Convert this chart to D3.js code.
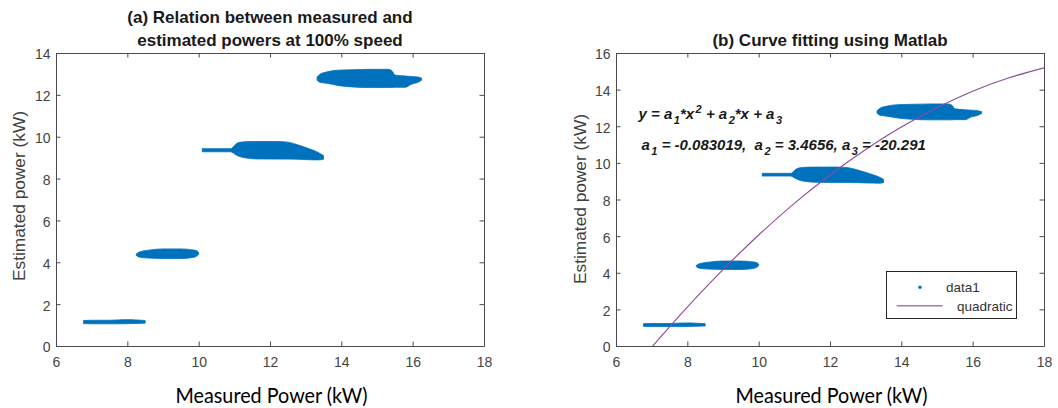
<!DOCTYPE html>
<html><head><meta charset="utf-8">
<script src="https://cdn.jsdelivr.net/npm/d3@7"></script>
<style>body{margin:0;background:#fff}svg{display:block}text{white-space:pre}</style>
</head><body>
<svg id="c" width="1058" height="408"></svg>
<script>
// ---- tick values ----
const xTicks = [6, 8, 10, 12, 14, 16, 18];
const yTicksA = [0, 2, 4, 6, 8, 10, 12, 14];
const yTicksB = [0, 2, 4, 6, 8, 10, 12, 14, 16];

// ---- data1 point clouds, read as envelopes: measured (kW) -> lower / upper estimated (kW) ----
const c1X  = [6.77, 7.0, 7.5, 7.9, 8.1, 8.3, 8.5];
const c1Lo = [1.07, 1.06, 1.06, 1.06, 1.07, 1.08, 1.09];
const c1Hi = [1.22, 1.23, 1.23, 1.26, 1.26, 1.24, 1.22];

const c2X  = [8.25, 8.35, 8.6, 9.0, 9.5, 9.8, 9.95, 10.0];
const c2Lo = [4.33, 4.24, 4.20, 4.18, 4.18, 4.22, 4.30, 4.38];
const c2Hi = [4.40, 4.50, 4.58, 4.64, 4.64, 4.60, 4.55, 4.47];

const c3X  = [10.1, 10.9, 10.97, 11.05, 11.15, 11.3, 11.6, 12.2, 12.5, 12.8, 13.1, 13.35, 13.5];
const c3Lo = [9.28, 9.28, 9.22, 9.13, 9.05, 8.99, 8.94, 8.93, 8.93, 8.92, 8.90, 8.89, 8.92];
const c3Hi = [9.43, 9.43, 9.52, 9.66, 9.73, 9.76, 9.77, 9.77, 9.74, 9.60, 9.42, 9.25, 9.10];

const c4X  = [13.32, 13.4, 13.6, 13.9, 14.3, 14.8, 15.3, 15.42, 15.5, 15.8, 15.95, 16.15, 16.25];
const c4Lo = [12.70, 12.60, 12.55, 12.45, 12.38, 12.35, 12.35, 12.35, 12.36, 12.36, 12.50, 12.60, 12.70];
const c4Hi = [12.85, 12.98, 13.10, 13.18, 13.20, 13.22, 13.22, 13.15, 12.95, 12.90, 12.88, 12.85, 12.80];

// ---- quadratic fit curve ----
const fitX = [7.03, 8, 9, 10, 11, 12, 13, 14, 15, 16, 17, 18];
const fitY = [0, 2.12, 4.17, 6.06, 7.79, 9.34, 10.73, 11.96, 13.01, 13.91, 14.63, 15.19];

// ---- texts ----
const titleA = ["(a) Relation between measured and", "estimated powers at 100% speed"];
const titleB = "(b) Curve fitting using Matlab";
const xLabel = "Measured Power (kW)";
const yLabel = "Estimated power (kW)";
const legendLabels = ["data1", "quadratic"];

// ---- drawing ----
const svg = d3.select("#c");
const BLUE = "#0072BD", PURPLE = "#8E4A9E", AX = "#4a4a4a";
const FONT = "'Liberation Sans', Arial, sans-serif";

const clusters = [
  d3.zip(c1X, c1Lo, c1Hi),
  d3.zip(c2X, c2Lo, c2Hi),
  d3.zip(c3X, c3Lo, c3Hi),
  d3.zip(c4X, c4Lo, c4Hi)
];

function panel(id, xr, yr, yMax, yTicks) {
  const g = svg.append("g").attr("id", id);
  const x = d3.scaleLinear().domain([6, 18]).range(xr);
  const y = d3.scaleLinear().domain([0, yMax]).range(yr);

  g.append("clipPath").attr("id", id + "clip").append("rect")
    .attr("x", xr[0]).attr("y", yr[1]).attr("width", xr[1] - xr[0]).attr("height", yr[0] - yr[1]);

  // data clouds
  const area = d3.area().x(d => x(d[0])).y0(d => y(d[1])).y1(d => y(d[2])).curve(d3.curveMonotoneX);
  g.append("g").selectAll("path").data(clusters).join("path")
    .attr("d", area).attr("fill", BLUE).attr("stroke", BLUE).attr("stroke-width", 0.8);

  // axes
  const style = sel => {
    sel.selectAll("path.domain").attr("stroke", AX);
    sel.selectAll(".tick line").attr("stroke", AX);
    sel.selectAll("text").attr("fill", "#444").attr("font-family", FONT).attr("font-size", 14);
  };
  const T = 4.5;
  g.append("g").attr("transform", `translate(0,${yr[0]})`)
    .call(d3.axisBottom(x).tickValues(xTicks).tickSizeInner(-T).tickSizeOuter(0).tickFormat(d3.format("d")))
    .call(style).call(s => s.selectAll("text").attr("y", 21).attr("dy", null));
  g.append("g").attr("transform", `translate(0,${yr[1]})`)
    .call(d3.axisTop(x).tickValues(xTicks).tickSizeInner(-T).tickSizeOuter(0).tickFormat(""))
    .call(style);
  g.append("g").attr("transform", `translate(${xr[0]},0)`)
    .call(d3.axisLeft(y).tickValues(yTicks).tickSizeInner(-T).tickSizeOuter(0).tickPadding(5.5).tickFormat(d3.format("d")))
    .call(style).call(s => s.selectAll("text").attr("dy", "0.42em"));
  g.append("g").attr("transform", `translate(${xr[1]},0)`)
    .call(d3.axisRight(y).tickValues(yTicks).tickSizeInner(-T).tickSizeOuter(0).tickFormat(""))
    .call(style);
  g.selectAll(".domain").attr("fill", "none");

  const cx = (xr[0] + xr[1]) / 2;
  // x label
  g.append("text").attr("x", cx + 1.5).attr("y", 403).attr("text-anchor", "middle")
    .attr("font-family", "Lato, 'Open Sans', sans-serif").attr("font-size", 21)
    .attr("textLength", 192).attr("lengthAdjust", "spacingAndGlyphs")
    .attr("fill", "#000").text(xLabel);
  return {g, x, y, cx};
}

const A = panel("pa", [56, 484], [346, 53], 14, yTicksA);
const B = panel("pb", [616, 1044], [346, 53], 16, yTicksB);

// y labels
[[24.5, 196], [585.5, 199]].forEach(([px, py]) => {
  svg.append("text").attr("transform", `translate(${px},${py}) rotate(-90)`)
    .attr("text-anchor", "middle").attr("font-family", FONT).attr("font-size", 17.3)
    .attr("fill", "#404040").text(yLabel);
});

// titles
titleA.forEach((t, i) => {
  svg.append("text").attr("x", A.cx).attr("y", 23 + i * 22.5).attr("text-anchor", "middle")
    .attr("font-family", FONT).attr("font-weight", "bold").attr("font-size", 17)
    .attr("fill", "#1a1a1a").text(t);
});
svg.append("text").attr("x", B.cx).attr("y", 45.5).attr("text-anchor", "middle")
  .attr("font-family", FONT).attr("font-weight", "bold").attr("font-size", 17)
  .attr("fill", "#1a1a1a").text(titleB);

// fitted curve
B.g.append("path").datum(d3.zip(fitX, fitY))
  .attr("clip-path", "url(#pbclip)")
  .attr("d", d3.line().x(d => B.x(d[0])).y(d => B.y(d[1])).curve(d3.curveMonotoneX))
  .attr("fill", "none").attr("stroke", PURPLE).attr("stroke-width", 1.1);

// equation annotation
function eq(x, y, parts) {
  const t = svg.append("text").attr("x", x).attr("y", y)
    .attr("font-family", FONT).attr("font-weight", "bold").attr("font-style", "italic")
    .attr("font-size", 15).attr("fill", "#1a1a1a");
  let shift = 0;
  parts.forEach(([s, kind]) => {
    const target = kind === "sub" ? 5 : kind === "sup" ? -6 : 0;
    const ts = t.append("tspan").attr("dy", target - shift).text(s);
    if (kind) ts.attr("font-size", 11).attr("dx", 1.5);
    shift = target;
  });
}
eq(638.5, 118.5, [["y = a"], ["1", "sub"], ["*x"], ["2", "sup"], [" + a"], ["2", "sub"], ["*x + a"], ["3", "sub"]]);
eq(641.5, 150, [["a"], ["1", "sub"], [" = -0.083019,  a"], ["2", "sub"], [" = 3.4656, a"], ["3", "sub"], [" = -20.291"]]);

// legend
const lg = svg.append("g");
lg.append("rect").attr("x", 886.5).attr("y", 271.5).attr("width", 130).attr("height", 47)
  .attr("fill", "#fff").attr("stroke", "#262626").attr("stroke-width", 1);
lg.append("circle").attr("cx", 920).attr("cy", 287.3).attr("r", 1.7).attr("fill", BLUE);
lg.append("line").attr("x1", 896.7).attr("x2", 942.7).attr("y1", 305.7).attr("y2", 305.7)
  .attr("stroke", PURPLE).attr("stroke-width", 1.6).attr("stroke-opacity", 0.75);
lg.selectAll("text.l").data(legendLabels).join("text").attr("class", "l")
  .attr("x", (d, i) => i === 0 ? 946 : 957).attr("y", (d, i) => i === 0 ? 292 : 310.7)
  .attr("font-family", FONT).attr("font-size", 13.5).attr("fill", "#333").text(d => d);
</script>
</body></html>
